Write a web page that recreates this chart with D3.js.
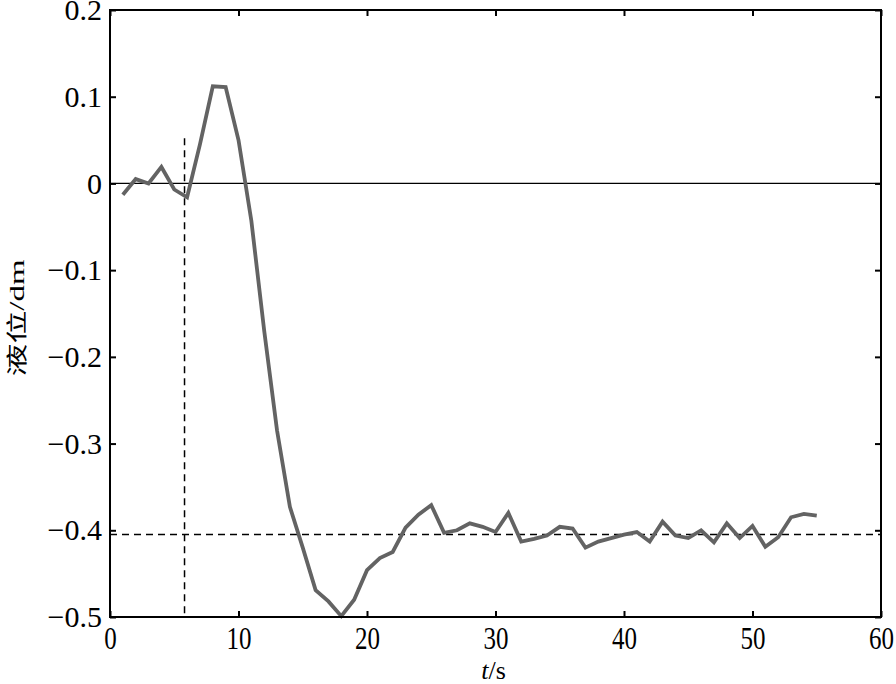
<!DOCTYPE html>
<html>
<head>
<meta charset="utf-8">
<script src="https://cdn.jsdelivr.net/npm/d3@7"></script>
<style>
body { margin: 0; background: #fff; }
text { font-family: "Liberation Serif", "Times New Roman", serif; }
</style>
</head>
<body>
<div id="chart"></div>
<script>
var w = 896;
var h = 684;
var margin = {top: 10, right: 15, bottom: 67, left: 110};

// time (s) and level (dm)
var times = d3.range(1, 56);
var level = [-0.013, 0.005, 0.0, 0.019, -0.007, -0.016, 0.045, 0.112, 0.111, 0.05,
             -0.043, -0.17, -0.285, -0.373, -0.42, -0.469, -0.482, -0.499, -0.48, -0.446,
             -0.432, -0.425, -0.397, -0.382, -0.371, -0.403, -0.4, -0.392, -0.396, -0.402,
             -0.38, -0.413, -0.41, -0.406, -0.396, -0.398, -0.42, -0.413, -0.409, -0.405,
             -0.402, -0.413, -0.39, -0.406, -0.409, -0.4, -0.414, -0.392, -0.409, -0.395,
             -0.419, -0.408, -0.385, -0.381, -0.383];
var xTicks = [0, 10, 20, 30, 40, 50, 60];
var yTicks = [0.2, 0.1, 0, -0.1, -0.2, -0.3, -0.4, -0.5];
var steadyLevel = -0.405;
var startTime = 5.8;
var startTop = 0.052;

var xScale = d3.scaleLinear().domain([0, 60]).range([margin.left, w - margin.right]);
var yScale = d3.scaleLinear().domain([-0.5, 0.2]).range([h - margin.bottom, margin.top]);

var svg = d3.select("#chart").append("svg")
    .attr("width", w)
    .attr("height", h);

var yFmt = function(d) {
    if (d === 0) return "0";
    return (d < 0 ? "\u2212" : "") + d3.format(".1f")(Math.abs(d));
};

// zero line
svg.append("line")
    .attr("x1", xScale(0)).attr("x2", xScale(60))
    .attr("y1", yScale(0)).attr("y2", yScale(0))
    .attr("stroke", "#000").attr("stroke-width", 1.2);

// dashed reference lines
svg.append("line")
    .attr("x1", xScale(0)).attr("x2", xScale(60))
    .attr("y1", yScale(steadyLevel)).attr("y2", yScale(steadyLevel))
    .attr("stroke", "#000").attr("stroke-width", 1.5)
    .attr("stroke-dasharray", "7,5");
svg.append("line")
    .attr("x1", xScale(startTime)).attr("x2", xScale(startTime))
    .attr("y1", yScale(startTop)).attr("y2", yScale(-0.5))
    .attr("stroke", "#000").attr("stroke-width", 1.5)
    .attr("stroke-dasharray", "7,5");

// data line
var line = d3.line()
    .x(function(d, i) { return xScale(times[i]); })
    .y(function(d) { return yScale(d); });
svg.append("path")
    .datum(level)
    .attr("d", line)
    .attr("fill", "none")
    .attr("stroke", "#636363")
    .attr("stroke-width", 3.8)
    .attr("stroke-linejoin", "miter");

// axes with inward ticks on all sides
var xAxis = d3.axisBottom(xScale).tickValues(xTicks).tickSize(-6).tickFormat(d3.format("d"));
var yAxis = d3.axisLeft(yScale).tickValues(yTicks).tickSize(-6).tickPadding(8).tickFormat(yFmt);
var xTop = d3.axisTop(xScale).tickValues(xTicks).tickSize(-6).tickFormat("");
var yRight = d3.axisRight(yScale).tickValues(yTicks).tickSize(-6).tickFormat("");

function style(g, size) {
    g.select(".domain").remove();
    g.selectAll(".tick line").attr("stroke", "#000").attr("stroke-width", 2);
    g.selectAll(".tick text").attr("fill", "#000").style("font-size", size + "px")
        .style("font-family", "'Liberation Serif', serif");
}

svg.append("g").attr("transform", "translate(0," + yScale(-0.5) + ")").call(xAxis).call(style, 25)
    .selectAll(".tick text")
    .attr("y", 32 / 1.3).attr("dy", 0)
    .attr("transform", "scale(1,1.3)");
svg.append("g").attr("transform", "translate(" + xScale(0) + ",0)").call(yAxis).call(style, 30);
svg.append("g").attr("transform", "translate(0," + yScale(0.2) + ")").call(xTop).call(style, 26);
svg.append("g").attr("transform", "translate(" + xScale(60) + ",0)").call(yRight).call(style, 26);

// frame
svg.append("rect")
    .attr("x", xScale(0)).attr("y", yScale(0.2))
    .attr("width", xScale(60) - xScale(0))
    .attr("height", yScale(-0.5) - yScale(0.2))
    .attr("fill", "none").attr("stroke", "#000").attr("stroke-width", 2);

// axis titles
var xt = svg.append("text")
    .attr("x", (xScale(0) + xScale(60)) / 2 - 2)
    .attr("y", 679)
    .attr("text-anchor", "middle")
    .style("font-size", "26px");
xt.append("tspan").style("font-style", "italic").text("t");
xt.append("tspan").text("/s");

svg.append("text")
    .attr("transform", "translate(24,318) rotate(-90)")
    .attr("text-anchor", "middle")
    .attr("textLength", 117)
    .attr("lengthAdjust", "spacingAndGlyphs")
    .style("font-size", "21px")
    .selectAll("tspan")
    .data([["液位", "'Noto Sans CJK SC', serif"], ["/dm", "'Liberation Serif', serif"]])
    .enter().append("tspan")
    .style("font-family", function(d) { return d[1]; })
    .text(function(d) { return d[0]; });
</script>
</body>
</html>
